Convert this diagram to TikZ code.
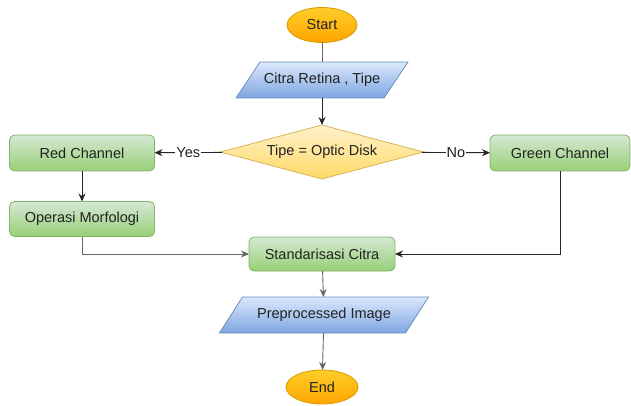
\documentclass[tikz,border=0pt]{standalone}
\usepackage{fontspec}
\setmainfont{Liberation Sans}
\usetikzlibrary{shapes.geometric,arrows.meta,backgrounds}
\definecolor{ornTop}{HTML}{FFCD28}
\definecolor{ornBot}{HTML}{FFA500}
\definecolor{ornLine}{HTML}{D79B00}
\definecolor{bluTop}{HTML}{DAE8FC}
\definecolor{bluBot}{HTML}{7EA6E0}
\definecolor{bluLine}{HTML}{6C8EBF}
\definecolor{grnTop}{HTML}{D5E8D4}
\definecolor{grnBot}{HTML}{97D077}
\definecolor{grnLine}{HTML}{82B366}
\definecolor{ylwTop}{HTML}{FFF2CC}
\definecolor{ylwBot}{HTML}{FFD966}
\definecolor{ylwLine}{HTML}{D6B656}
\definecolor{txt}{HTML}{222222}
\definecolor{greyline}{HTML}{666666}
\tikzset{
  base/.style={font=\fontsize{14.5}{16}\selectfont, text=txt, inner sep=0pt, outer sep=0pt, line width=0.8pt},
  term/.style={base, ellipse, draw=ornLine, top color=ornTop, bottom color=ornBot, minimum width=70pt, minimum height=35pt},
  iobox/.style={base, rectangle, minimum height=36pt},
  iofill/.style={line width=0.8pt, draw=bluLine, top color=bluTop, bottom color=bluBot},
  procbox/.style={base, rectangle, rounded corners=5pt, draw=grnLine, top color=grnTop, bottom color=grnBot, minimum height=36pt},
  decis/.style={base, diamond, aspect=3.8, draw=ylwLine, top color=ylwTop, bottom color=ylwBot, minimum width=203pt, minimum height=54pt},
  blk/.style={line width=0.9pt, draw=black!85, -{Stealth[length=8pt,width=7pt]}},
  gry/.style={line width=0.9pt, draw=greyline, -{Stealth[length=8pt,width=7pt]}},
  lbl/.style={font=\fontsize{14.5}{16}\selectfont, text=txt, fill=white, inner sep=1pt}
}
\begin{document}
\begin{tikzpicture}[x=1pt,y=-1pt]
\useasboundingbox (0,0) rectangle (631,406);
\node[term] (start) at (322,25) {Start};
\node[iobox, minimum width=148pt] (citra) at (322,80) {Citra Retina , Tipe};
\node[decis] (tipe) at (322,152) {Tipe = Optic Disk};
\node[procbox, minimum width=145pt] (red) at (82,153) {Red Channel};
\node[procbox, minimum width=145pt, minimum height=35pt] (morf) at (82,219) {Operasi Morfologi};
\node[procbox, minimum width=140pt] (green) at (560,153) {Green Channel};
\node[procbox, minimum width=146pt, minimum height=34pt] (std) at (322,254) {Standarisasi Citra};
\node[iobox, minimum width=186pt] (pre) at (324,315) {Preprocessed Image};
\node[term, minimum width=72pt, minimum height=34pt] (end) at (322,387) {End};

\begin{pgfonlayer}{background}
\path[iofill] ([xshift=12pt]citra.north west) -- ([xshift=12pt]citra.north east) -- ([xshift=-12pt]citra.south east) -- ([xshift=-12pt]citra.south west) -- cycle;
\path[iofill] ([xshift=11.5pt]pre.north west) -- ([xshift=11.5pt]pre.north east) -- ([xshift=-11.5pt]pre.south east) -- ([xshift=-11.5pt]pre.south west) -- cycle;
\end{pgfonlayer}

\draw[line width=0.9pt, draw=greyline] (start) -- (citra);
\draw[blk] (citra) -- (tipe);
\draw[blk] (tipe) -- node[lbl] {Yes} (red);
\draw[blk] (tipe) -- node[lbl] {No} (green);
\draw[blk] (red) -- (morf);
\draw[gry] (morf.south) |- (std.west);
\draw[blk] (green.south) |- (std.east);
\draw[gry] (std) -- (pre);
\draw[gry] (pre) -- (end);
\end{tikzpicture}
\end{document}
